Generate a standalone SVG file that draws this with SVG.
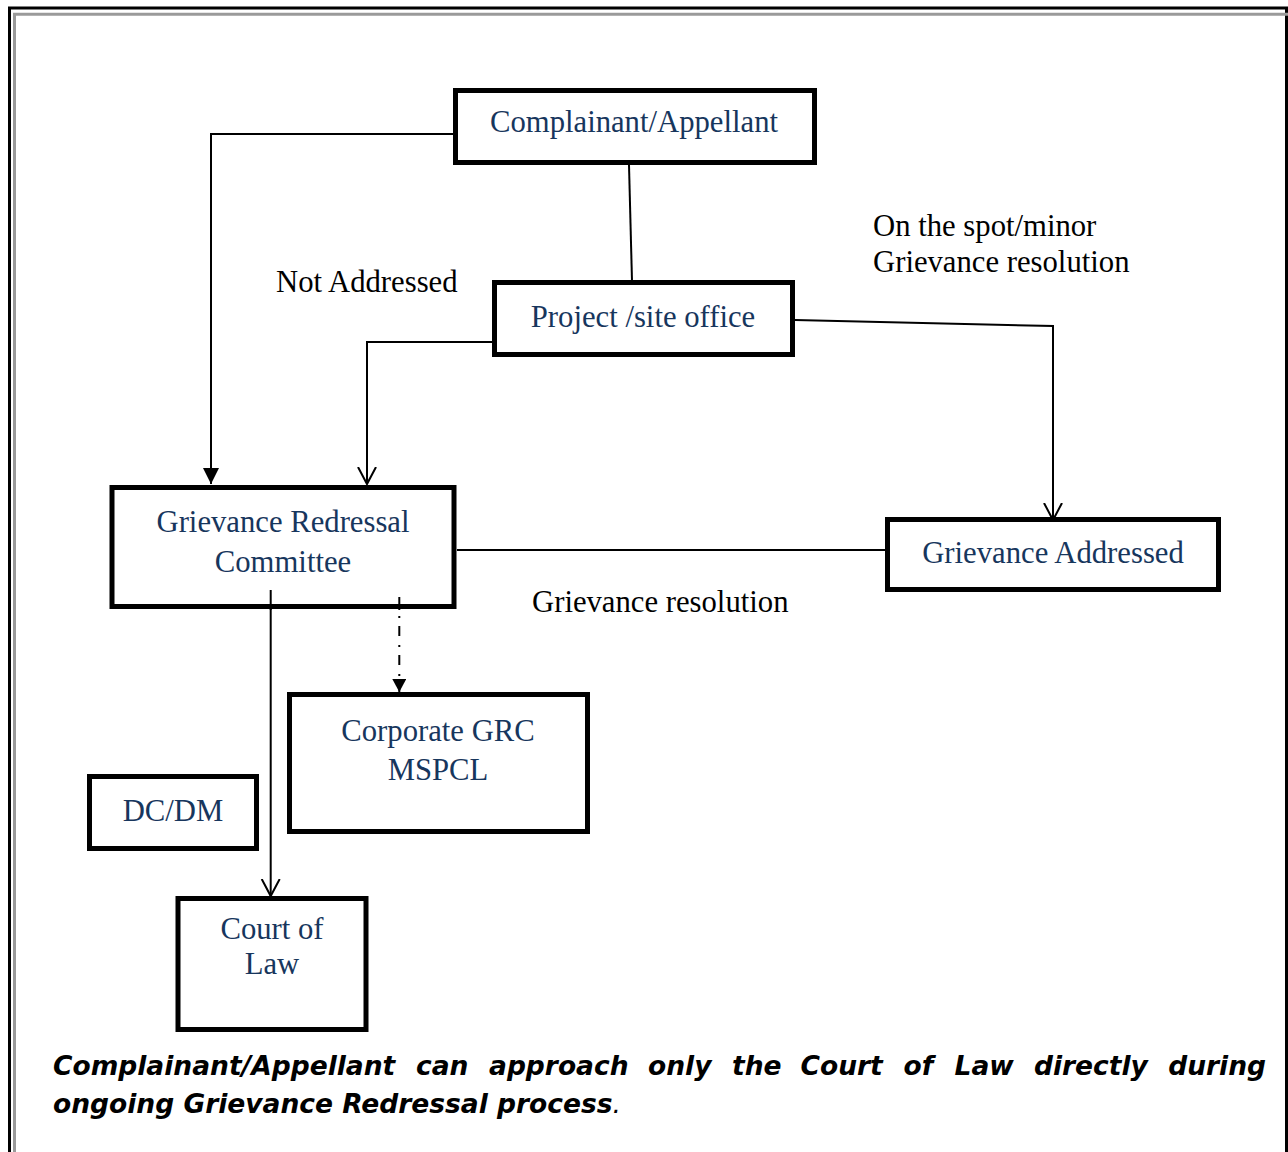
<svg xmlns="http://www.w3.org/2000/svg" width="1288" height="1152" viewBox="0 0 1288 1152">
<style>
.box{fill:#fff;stroke:#000;stroke-width:5}
.nt{font-family:"Liberation Serif","Times New Roman",serif;font-size:30.7px;fill:#17365D;text-anchor:middle}
.lb{font-family:"Liberation Serif","Times New Roman",serif;font-size:30.7px;fill:#000}
.ln{fill:none;stroke:#000;stroke-width:2}
.ft{font-family:"DejaVu Sans",Verdana,sans-serif;font-size:26.5px;font-weight:bold;font-style:italic;fill:#000}
</style>
<defs>
<marker id="fill" markerUnits="userSpaceOnUse" markerWidth="20" markerHeight="20" refX="16" refY="8" orient="auto">
<path d="M0,0 L16,8 L0,16 Z" fill="#000"/>
</marker>
<marker id="fillS" markerUnits="userSpaceOnUse" markerWidth="16" markerHeight="16" refX="13" refY="7" orient="auto">
<path d="M0,0 L13,7 L0,14 Z" fill="#000"/>
</marker>
<marker id="open" markerUnits="userSpaceOnUse" markerWidth="22" markerHeight="24" refX="17" refY="10" orient="auto">
<path d="M0,1 L17,10 L0,19" fill="none" stroke="#000" stroke-width="2"/>
</marker>
</defs>
<rect width="1288" height="1152" fill="#fff"/>
<g id="frame">
<path d="M9.5,1160 V8 H1286.5 V1160" fill="none" stroke="#000" stroke-width="3"/>
<path d="M14.5,1160 V14.2 H1288" fill="none" stroke="#9a9a9a" stroke-width="3"/>
</g>
<g id="connectors">
<path class="ln" d="M453,134 H211 V484" marker-end="url(#fill)"/>
<path class="ln" d="M629,165 L632,281"/>
<path class="ln" d="M492,342 H367 V484" marker-end="url(#open)"/>
<path class="ln" d="M795,320 L1053,326 V520" marker-end="url(#open)"/>
<path class="ln" d="M457,550 H886"/>
<path class="ln" d="M270.7,590 V896" marker-end="url(#open)"/>
<path class="ln" d="M399.3,616 V692" stroke-dasharray="2 8 10 9" marker-end="url(#fillS)"/>
</g>
<g id="node-complainant">
<rect class="box" x="455.5" y="90.5" width="359" height="72"/>
<text class="nt" x="634" y="132">Complainant/Appellant</text>
</g>
<g id="node-project">
<rect class="box" x="494.5" y="282.5" width="298" height="72"/>
<text class="nt" x="643" y="327">Project /site office</text>
</g>
<g id="node-grc">
<rect class="box" x="112" y="487.5" width="342" height="119"/>
<text class="nt" x="283" y="532">Grievance Redressal</text>
<text class="nt" x="283" y="572">Committee</text>
</g>
<g id="connector-stubs">
<line class="ln" x1="270.7" y1="590" x2="270.7" y2="610"/>
<line class="ln" x1="399.3" y1="597" x2="399.3" y2="610"/>
</g>
<g id="node-addressed">
<rect class="box" x="887.5" y="519.5" width="331" height="70"/>
<text class="nt" x="1053" y="563">Grievance Addressed</text>
</g>
<g id="node-corporate">
<rect class="box" x="289.5" y="694.5" width="298" height="137"/>
<text class="nt" x="438" y="741">Corporate GRC</text>
<text class="nt" x="438" y="780">MSPCL</text>
</g>
<g id="node-dcdm">
<rect class="box" x="89.5" y="776.5" width="167" height="72"/>
<text class="nt" x="173" y="821">DC/DM</text>
</g>
<g id="node-court">
<rect class="box" x="178" y="898.5" width="188" height="131"/>
<text class="nt" x="272" y="939">Court of</text>
<text class="nt" x="272" y="974">Law</text>
</g>
<g id="labels">
<text class="lb" x="276" y="292">Not Addressed</text>
<text class="lb" x="873" y="236">On the spot/minor</text>
<text class="lb" x="873" y="272">Grievance resolution</text>
<text class="lb" x="532" y="612">Grievance resolution</text>
</g>
<g id="footnote">
<text class="ft" y="1075"><tspan x="53">Complainant/Appellant</tspan><tspan x="416">can</tspan><tspan x="489">approach</tspan><tspan x="648">only</tspan><tspan x="732">the</tspan><tspan x="800.5">Court</tspan><tspan x="903.5">of</tspan><tspan x="954.5">Law</tspan><tspan x="1034">directly</tspan></text>
<text class="ft" x="1266" y="1075" text-anchor="end">during</text>
<text class="ft" x="53" y="1113">ongoing Grievance Redressal process<tspan font-weight="normal">.</tspan></text>
</g>
</svg>
